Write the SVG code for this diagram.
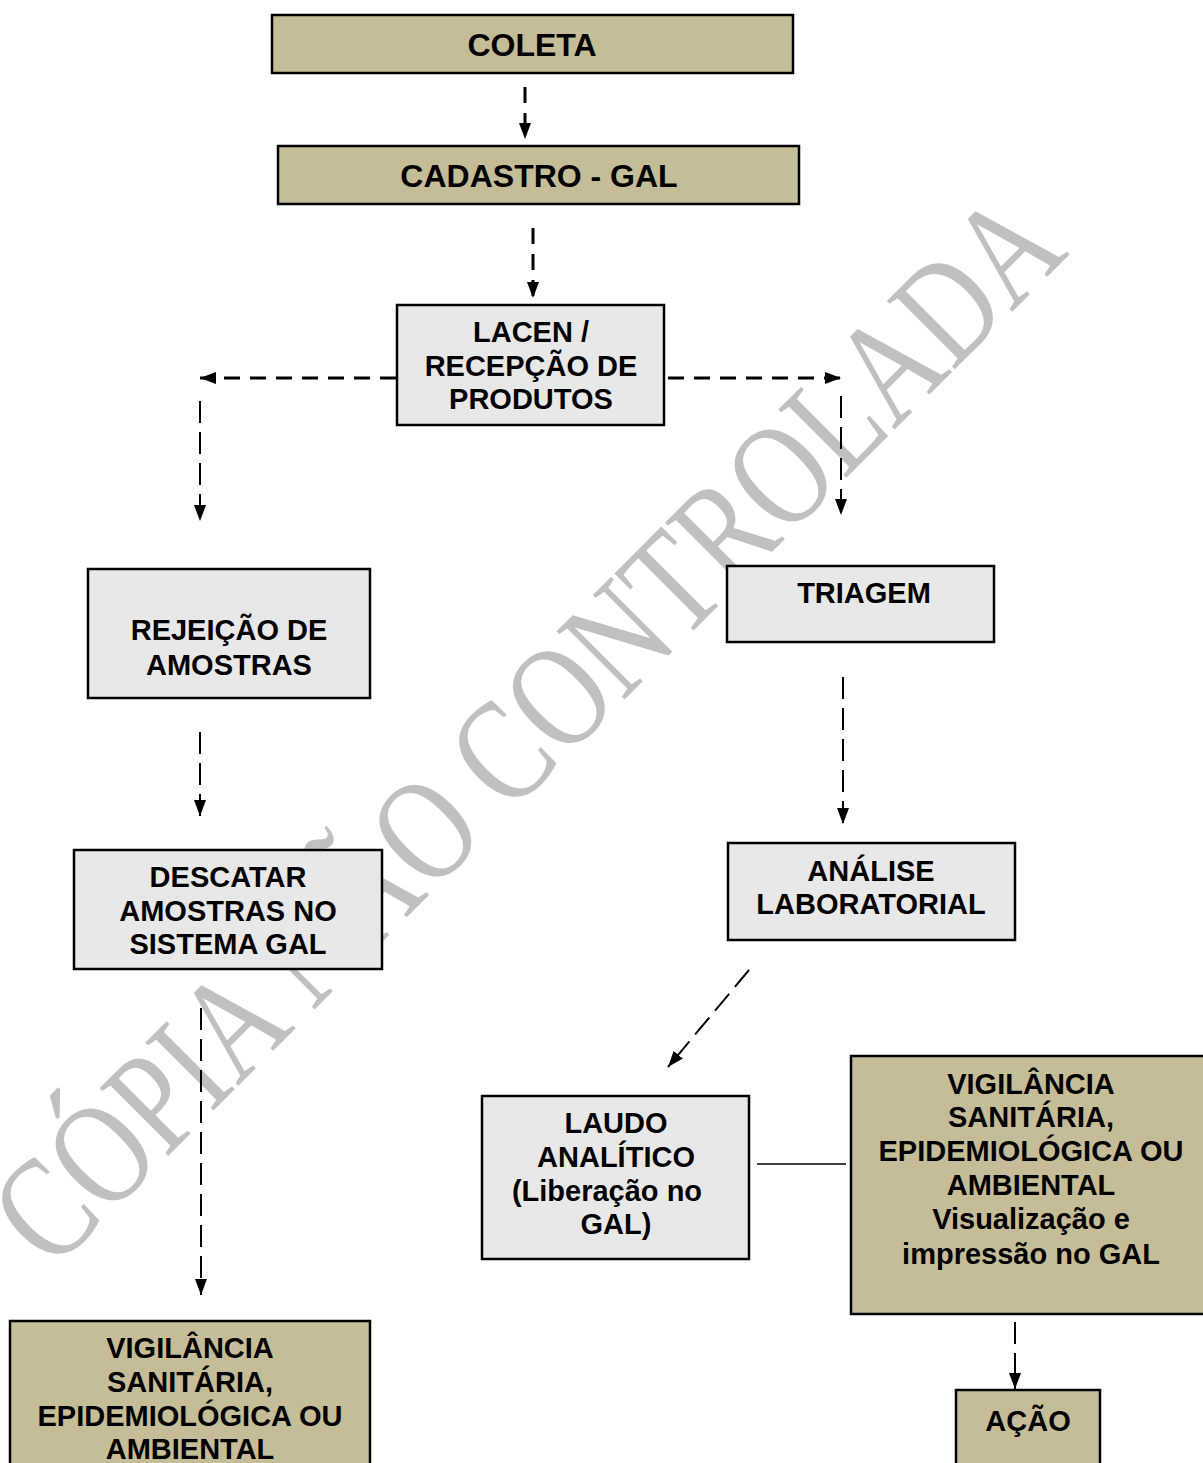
<svg xmlns="http://www.w3.org/2000/svg" width="1203" height="1463" viewBox="0 0 1203 1463">
<style>
.tan{fill:#c4bd97;stroke:#000;stroke-width:2.5}
.gry{fill:#e8e8e8;stroke:#000;stroke-width:2.5}
.t{font-family:"Liberation Sans",Arial,sans-serif;font-weight:bold;font-size:29px;fill:#000;text-anchor:middle}
.big{font-size:32px}
.wm{font-family:"Liberation Serif","Times New Roman",serif;font-size:147px;fill:#c0c0c0}
.thick{stroke:#000;stroke-width:3;fill:none;stroke-dasharray:16 10}
.thin{stroke:#000;stroke-width:2;fill:none;stroke-dasharray:22 9}
.solid{stroke:#000;stroke-width:1.5;fill:none}
</style>
<defs>
<marker id="ah" markerUnits="userSpaceOnUse" markerWidth="16" markerHeight="12" refX="16" refY="6" orient="auto">
<path d="M0,0 L16,6 L0,12 z" fill="#000"/>
</marker>
</defs>
<rect width="1203" height="1463" fill="#fff"/>
<text class="wm" transform="translate(52,1272) rotate(-45)" x="0" y="0" textLength="1440" lengthAdjust="spacingAndGlyphs">CÓPIA NÃO CONTROLADA</text>
<g id="connectors">
<line class="thick" x1="525" y1="87" x2="525" y2="139" marker-end="url(#ah)"/>
<line class="thick" x1="533" y1="228" x2="533" y2="298" marker-end="url(#ah)"/>
<line class="thick" x1="396" y1="378" x2="200" y2="378" marker-end="url(#ah)"/>
<line class="thin" x1="200" y1="401" x2="200" y2="521" marker-end="url(#ah)"/>
<line class="thick" x1="668" y1="378" x2="841" y2="378" marker-end="url(#ah)"/>
<line class="thin" x1="841" y1="396" x2="841" y2="515" marker-end="url(#ah)"/>
<line class="thin" x1="200" y1="732" x2="200" y2="816" marker-end="url(#ah)"/>
<line class="thin" x1="843" y1="677" x2="843" y2="824" marker-end="url(#ah)"/>
<line class="thin" x1="749" y1="970" x2="668" y2="1067" marker-end="url(#ah)"/>
<line class="thin" x1="201" y1="1008" x2="201" y2="1295" marker-end="url(#ah)"/>
<line class="solid" x1="757" y1="1164" x2="846" y2="1164"/>
<line class="thin" x1="1015" y1="1322" x2="1015" y2="1389" marker-end="url(#ah)"/>
</g>
<g id="coleta"><rect class="tan" x="272" y="15" width="521" height="58"/><text class="t big" x="532" y="56">COLETA</text></g>
<g id="cadastro"><rect class="tan" x="278" y="146" width="521" height="58"/><text class="t big" x="539" y="187">CADASTRO - GAL</text></g>
<g id="lacen"><rect class="gry" x="397" y="305" width="267" height="120"/>
<text class="t" x="531" y="342">LACEN /</text><text class="t" x="531" y="376">RECEPÇÃO DE</text><text class="t" x="531" y="409">PRODUTOS</text></g>
<g id="rejeicao"><rect class="gry" x="88" y="569" width="282" height="129"/>
<text class="t" x="229" y="640">REJEIÇÃO DE</text><text class="t" x="229" y="675">AMOSTRAS</text></g>
<g id="triagem"><rect class="gry" x="727" y="566" width="267" height="76"/>
<text class="t" x="864" y="603">TRIAGEM</text></g>
<g id="descatar"><rect class="gry" x="74" y="850" width="308" height="119"/>
<text class="t" x="228" y="887">DESCATAR</text><text class="t" x="228" y="921">AMOSTRAS NO</text><text class="t" x="228" y="954">SISTEMA GAL</text></g>
<g id="analise"><rect class="gry" x="728" y="843" width="287" height="97"/>
<text class="t" x="871" y="881">ANÁLISE</text><text class="t" x="871" y="914">LABORATORIAL</text></g>
<g id="laudo"><rect class="gry" x="482" y="1096" width="267" height="163"/>
<text class="t" x="616" y="1133">LAUDO</text><text class="t" x="616" y="1167">ANALÍTICO</text><text class="t" x="607" y="1201">(Liberação no</text><text class="t" x="616" y="1234">GAL)</text></g>
<g id="vigilancia-direita"><rect class="tan" x="851" y="1056" width="356" height="258"/>
<text class="t" x="1031" y="1094">VIGILÂNCIA</text><text class="t" x="1031" y="1127">SANITÁRIA,</text><text class="t" x="1031" y="1161">EPIDEMIOLÓGICA OU</text><text class="t" x="1031" y="1195">AMBIENTAL</text><text class="t" x="1031" y="1229">Visualização e</text><text class="t" x="1031" y="1264">impressão no GAL</text></g>
<g id="vigilancia-esquerda"><rect class="tan" x="10" y="1321" width="360" height="150"/>
<text class="t" x="190" y="1358">VIGILÂNCIA</text><text class="t" x="190" y="1392">SANITÁRIA,</text><text class="t" x="190" y="1426">EPIDEMIOLÓGICA OU</text><text class="t" x="190" y="1459">AMBIENTAL</text></g>
<g id="acao"><rect class="tan" x="956" y="1390" width="144" height="78"/>
<text class="t" x="1028" y="1431">AÇÃO</text></g>
</svg>
